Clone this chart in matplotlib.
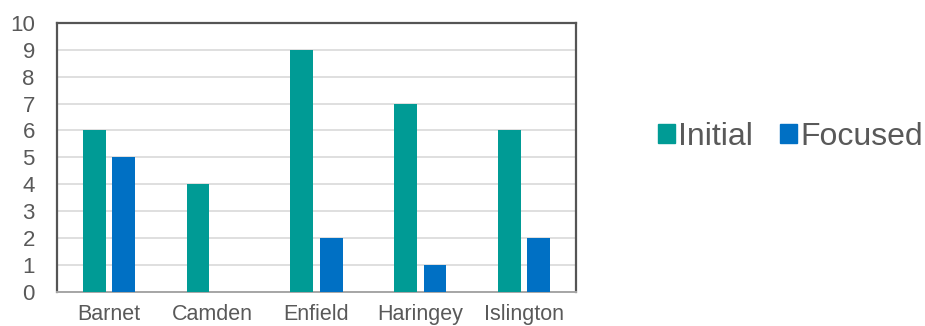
import numpy as np
import matplotlib.pyplot as plt
from matplotlib.patches import Patch

boroughs = ["Barnet", "Camden", "Enfield", "Haringey", "Islington"]
initial = [6, 4, 9, 7, 6]
focused = [5, 0, 2, 1, 2]

teal = "#009B95"
blue = "#0070C4"
grey_txt = "#595959"

plt.rcParams["font.family"] = ["Liberation Sans", "DejaVu Sans"]

fig = plt.figure(figsize=(9.25, 3.26), dpi=100)
ax = fig.add_axes([0.0616, 0.1043, 0.561, 0.826])

x = np.arange(len(boroughs))
w = 0.22
ax.bar(x - 0.142, initial, w, color=teal, zorder=3)
ax.bar(x + 0.142, focused, w, color=blue, zorder=3)

ax.set_xlim(-0.5, len(boroughs) - 0.5)
ax.set_ylim(0, 10)
ax.set_yticks(range(0, 11))
ax.set_xticks(x)
ax.set_xticklabels(boroughs)
ax.yaxis.grid(True, color="#DCDCDC", lw=1.3, zorder=0)
ax.tick_params(axis="both", length=0, colors=grey_txt)
ax.tick_params(axis="y", pad=16, labelsize=16)
ax.tick_params(axis="x", pad=9, labelsize=15.5)

for s in ["top", "left", "right"]:
    ax.spines[s].set_color("#555555")
    ax.spines[s].set_linewidth(1.6)
ax.spines["bottom"].set_color("#A6A6A6")
ax.spines["bottom"].set_linewidth(1.4)

handles = [Patch(color=teal, label="Initial"), Patch(color=blue, label="Focused")]
fig.legend(handles=handles, loc="center left", bbox_to_anchor=(0.694, 0.58),
           ncol=2, frameon=False, fontsize=23, handlelength=0.52, handleheight=0.52,
           handletextpad=0.12, columnspacing=0.85, labelcolor=grey_txt, borderpad=0)

fig.savefig("out.png", dpi=100, facecolor="white")
